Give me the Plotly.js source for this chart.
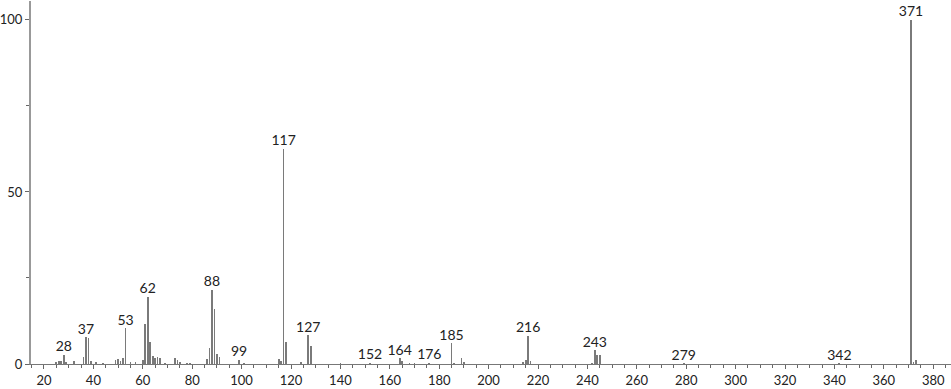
<!DOCTYPE html>
<html>
<head>
<meta charset="utf-8">
<script src="https://cdn.plot.ly/plotly-3.0.1.min.js"></script>
<style>html,body{margin:0;padding:0;background:#fff;}#chart{width:951px;height:389px;}</style>
</head>
<body>
<div id="chart"></div>
<script>
// m/z values and relative intensities (%)
const mz = [25,26,27,28,29,32,36,37,38,39,41,44,49,50,51,52,53,55,57,60,61,62,63,64,65,66,67,69,73,74,75,78,79,86,87,88,89,90,91,99,101,115,116,117,118,124,127,128,140,152,164,165,168,170,176,185,186,189,190,214,215,216,217,242,243,244,245,279,342,371,372,373];
const intensity = [0.5,1.0,0.8,2.7,0.7,1.0,2.0,7.8,7.6,1.0,0.5,0.4,1.2,1.5,0.8,1.7,10.4,0.6,0.5,1.2,11.5,19.6,6.3,2.3,1.8,2.0,1.6,0.4,1.8,1.3,0.5,0.4,0.4,1.5,4.7,21.6,15.9,2.9,2.0,1.2,0.4,1.5,1.0,62.5,6.3,0.6,8.4,5.2,0.3,0.3,1.7,1.0,0.4,0.4,0.3,6.0,0.4,1.7,0.7,0.5,1.2,8.2,0.8,0.4,4.0,2.6,2.6,0.2,0.2,100,0.5,1.2];
const labelMz = [28,37,53,62,88,99,117,127,152,164,176,185,216,243,279,342,371];
const labelY = [2.7,7.8,10.4,19.6,21.6,1.2,62.5,8.4,0.3,1.7,0.3,6.0,8.2,4.0,0.2,0.2,100];
const labelText = labelMz.map(String);

const font = "Lato, 'DejaVu Sans', sans-serif";

const traces = [
  {
    type: 'bar', x: mz, y: intensity, width: 0.7,
    marker: {color: '#7a7a7a', line: {width: 0}},
    hoverinfo: 'x+y', showlegend: false
  },
  {
    type: 'scatter', mode: 'text', x: labelMz, y: labelY, text: labelText,
    textposition: 'top center', textfont: {family: font, size: 14, color: '#222'},
    hoverinfo: 'skip', showlegend: false, cliponaxis: false
  }
];

const layout = {
  width: 951, height: 389,
  margin: {l: 31, r: 0, t: 1, b: 25, pad: 0},
  paper_bgcolor: '#fff', plot_bgcolor: '#fff',
  bargap: 0,
  font: {family: font, size: 13, color: '#222'},
  xaxis: {
    range: [14.74, 387.2], tick0: 0, dtick: 20,
    ticks: 'outside', ticklen: 4, tickcolor: '#666', tickwidth: 1,
    minor: {dtick: 5, tick0: 0, ticks: 'outside', ticklen: 3, tickcolor: '#666'},
    showline: true, linecolor: '#777', linewidth: 1,
    showgrid: false, zeroline: false, ticklabelstandoff: 0,
    tickfont: {family: font, size: 13, color: '#222'}
  },
  yaxis: {
    range: [0, 105.5], tickvals: [0, 50, 100],
    ticks: 'outside', ticklen: 4, tickcolor: '#666', tickwidth: 1,
    minor: {tickvals: [25, 75], ticks: 'outside', ticklen: 3, tickcolor: '#666'},
    showline: true, linecolor: '#999', linewidth: 2,
    showgrid: false, zeroline: false, ticklabelstandoff: 0,
    tickfont: {family: font, size: 13, color: '#222'}
  }
};

Plotly.newPlot('chart', traces, layout, {displayModeBar: false, staticPlot: true});
</script>
</body>
</html>
